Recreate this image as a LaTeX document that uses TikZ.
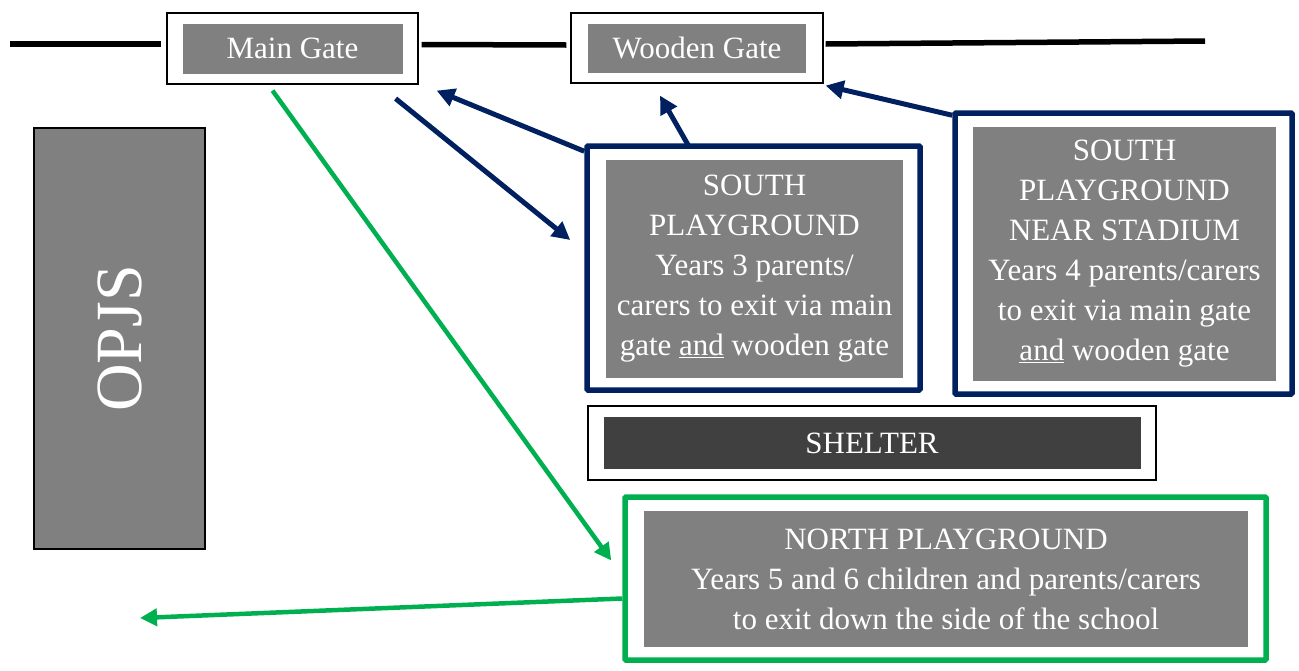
\documentclass[tikz,border=0pt]{standalone}
\usepackage{fontspec}
\setmainfont{Liberation Serif}
\usetikzlibrary{arrows.meta, calc}
\definecolor{navy}{HTML}{002060}
\definecolor{grass}{HTML}{00B050}
\definecolor{midgray}{HTML}{808080}
\definecolor{darkgray}{HTML}{404040}

\begin{document}
\begin{tikzpicture}[x=1pt, y=-1pt,
        frame/.style={draw=black, line width=1.2pt, fill=white, inner sep=0pt},
        bluebox/.style={draw=navy, line width=5.5pt, fill=white, inner sep=0pt, rounded corners=1pt},
        greenbox/.style={draw=grass, line width=5.5pt, fill=white, inner sep=0pt, rounded corners=1pt},
        panel/.style={fill=midgray, text=white, inner sep=0pt, align=center,
                font=\fontsize{31}{40}\selectfont},
        fence/.style={line width=5.5pt, black},
        navyarrow/.style={navy, line width=5pt, -{Triangle[length=18pt, width=18pt]}},
        greenarrow/.style={grass, line width=4.5pt, -{Triangle[length=17pt, width=17pt]}}]
        \useasboundingbox (0,0) rectangle (1299,670);

        % gates on the fence
        \node[frame, minimum width=251, minimum height=71] (mainout) at (292.5,48.5) {};
        \node[panel, minimum width=220, minimum height=50] (main) at (mainout) {Main Gate};
        \node[frame, minimum width=252, minimum height=70] (woodout) at (697,48) {};
        \node[panel, minimum width=218, minimum height=49] (wood) at (woodout) {Wooden Gate};

        \coordinate (fenceL) at (10,44);
        \coordinate (fenceR) at (1205,41);
        \draw[fence] (fenceL) -- ($(mainout.west |- fenceL)+(-5,0)$);
        \draw[fence] ($(mainout.east)+(3,-4)$) -- ($(woodout.west)+(-4,-3)$);
        \draw[fence] ($(woodout.east)+(2,-4)$) -- (fenceR);

        % school building
        \node[draw=black, line width=1.2pt, fill=midgray, minimum width=171, minimum height=421,
                inner sep=0pt] (opjs) at (119.5,338.5) {};
        \node[text=white, rotate=90, font=\fontsize{66}{70}\selectfont] (opjstext) at (opjs) {OPJS};

        % playgrounds
        \node[bluebox, minimum width=333, minimum height=244] (south) at (753.5,268) {};
        \node[panel, minimum width=297, minimum height=218] (southtext) at (754.5,269)
                {SOUTH\\PLAYGROUND\\Years 3 parents/\\carers to exit via main\\gate \underline{and} wooden gate};

        \node[bluebox, minimum width=337, minimum height=281] (stadium) at (1123.5,253.5) {};
        \node[panel, minimum width=303, minimum height=254] (stadiumtext) at (1124.5,254)
                {SOUTH\\PLAYGROUND\\NEAR STADIUM\\Years 4 parents/carers\\to exit via main gate\\\underline{and} wooden gate};

        \node[frame, minimum width=568, minimum height=74] (shelterout) at (872,443) {};
        \node[panel, fill=darkgray, minimum width=537, minimum height=52] (shelter) at (shelterout) {SHELTER};

        \node[greenbox, minimum width=641, minimum height=163] (north) at (945.5,578.5) {};
        \node[panel, minimum width=604, minimum height=136] (northtext) at (946,579)
                {NORTH PLAYGROUND\\Years 5 and 6 children and parents/carers\\to exit down the side of the school};

        % exit routes
        \coordinate (sidepath) at (140,618);
        \draw[navyarrow] ($(mainout.south east)+(-23,14)$) -- ($(south.west)+(-14,-28)$);
        \draw[navyarrow] ($(south.north west)+(0,8)$) -- ($(mainout.south east)+(18,6)$);
        \draw[navyarrow] ($(south.north west)+(104,2)$) -- ($(woodout.south)+(-37,12)$);
        \draw[navyarrow] ($(stadium.north west)+(0,5)$) -- ($(woodout.south east)+(2,2)$);
        \draw[greenarrow] ($(mainout.south)+(-20,6)$) -- ($(north.west)+(-11,-18)$);
        \draw[greenarrow] ($(north.west)+(0,20)$) -- (sidepath);

\end{tikzpicture}
\end{document}
